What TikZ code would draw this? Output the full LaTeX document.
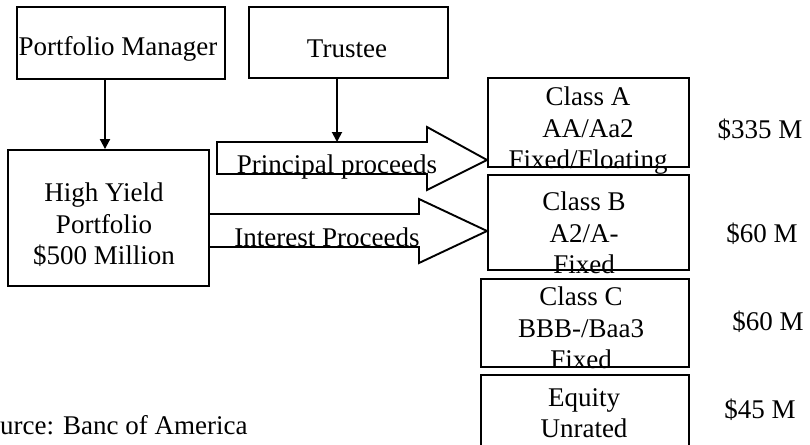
\documentclass[tikz,border=0pt]{standalone}
\usepackage{fontspec}
\setmainfont{Liberation Serif}
\usetikzlibrary{arrows.meta}
\begin{document}
\begin{tikzpicture}[x=1pt,y=-1pt,
  box/.style={draw,line width=1.9pt,rectangle,inner sep=0pt},
  txt/.style={align=center,inner sep=0pt,font=\fontsize{27}{31.5}\selectfont},
  conn/.style={line width=1.9pt,-{Triangle[length=10pt,width=10pt]}},
  blk/.style={draw,line width=1.9pt,line join=miter}]
\useasboundingbox (0,0) rectangle (810,444);
\clip (0,0) rectangle (810,444);
% boxes
\node[box,minimum width=208pt,minimum height=72pt] (PM) at (121,43) {};
\node[box,minimum width=199pt,minimum height=71pt] (TR) at (348.5,42.5) {};
\node[box,minimum width=201pt,minimum height=136pt] (HY) at (108.5,218) {};
\node[box,minimum width=201pt,minimum height=89pt] (CA) at (588.5,122.5) {};
\node[box,minimum width=201pt,minimum height=95pt] (CB) at (588.5,222.5) {};
\node[box,minimum width=208pt,minimum height=88pt] (CC) at (585,323) {};
\node[box,minimum width=208pt,minimum height=72pt] (EQ) at (585,411) {};
% texts
\node[txt] (tPM) at (118,49) {Portfolio Manager};
\node[txt] (tTR) at (347,49) {Trustee};
\node[txt] (tHY) at (104,225) {High Yield\\Portfolio\\\$500 Million};
\node[txt] (tCA) at (588,131) {Class A\\AA/Aa2\\Fixed/Floating};
\node[txt] (tCB) at (584,233) {Class B\\A2/A-\\Fixed};
\node[txt] (tCC) at (581,328) {Class C\\BBB-/Baa3\\Fixed};
\node[txt] (tEQ) at (584,413) {Equity\\Unrated};
\node[txt] (mA) at (760,130) {\$335 M};
\node[txt] (mB) at (762,234) {\$60 M};
\node[txt] (mC) at (768,322) {\$60 M};
\node[txt] (mE) at (760,410) {\$45 M};
\node[txt,anchor=west] (src) at (0,425) {urce: Banc of America};
% block arrows
\coordinate (ptip) at (CA.west |- 0,160);
\draw[blk] (217,142) -- (427,142) -- (427,127) -- (ptip) -- (427,190) -- (427,174) -- (217,174) -- cycle;
\coordinate (itip) at (CB.west |- 0,231);
\draw[blk] (HY.east |- 0,214) -- (419,214) -- (419,199) -- (itip) -- (419,263) -- (419,247) -- (HY.east |- 0,247);
\node[txt] (lP) at (337,167) {Principal proceeds};
\node[txt] (lI) at (327,237) {Interest Proceeds};
% connectors
\coordinate (x1) at (105,0);
\coordinate (x2) at (337,142);
\draw[conn] (PM.south -| x1) -- (HY.north -| x1);
\draw[conn] (TR.south -| x2) -- (x2);
\end{tikzpicture}
\end{document}
